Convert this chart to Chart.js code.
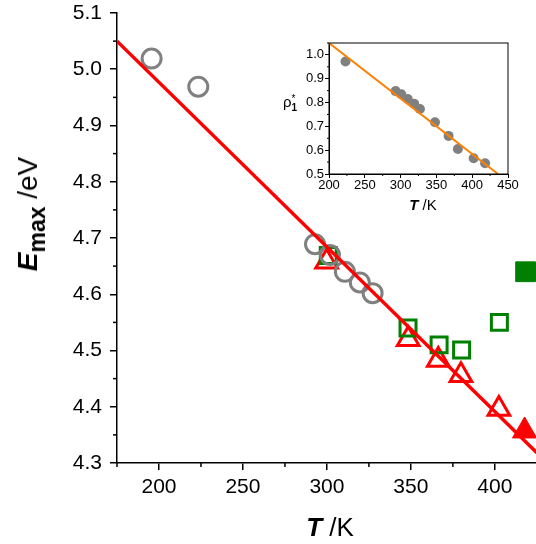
<!DOCTYPE html>
<html lang="en">
<head>
    <meta charset="UTF-8">
    <title>Emax vs T</title>
    <script src="https://cdn.jsdelivr.net/npm/chart.js"></script>
    <style>
        body {
            margin: 0;
            padding: 0;
            background: #fff;
            font-family: "Liberation Sans", Arial, sans-serif;
        }
        #wrap {
            position: relative;
            width: 536px;
            height: 544px;
            overflow: hidden;
        }
        #mainChart {
            position: absolute;
            left: 0;
            top: 0;
        }
        #insetChart {
            position: absolute;
            left: 295px;
            top: 38px;
        }
        .lbl {
            position: absolute;
            white-space: nowrap;
            color: #000;
            line-height: 1;
            transform: translate(-50%, -50%);
        }
        .rot {
            transform: translate(-50%, -50%) rotate(-90deg);
        }
        .bi { font-weight: bold; font-style: italic; }
        .sub { position: relative; top: 0.35em; font-weight: bold; }
    </style>
</head>
<body>
<div id="wrap">
    <canvas id="mainChart" width="536" height="544"></canvas>
    <canvas id="insetChart" width="225" height="156"></canvas>

    <div class="lbl rot" style="left:28px; top:214px; font-size:28px;">
        <span class="bi">E</span><span class="sub" style="font-size:23px;">max</span> /eV
    </div>
    <div class="lbl" style="left:330px; top:527px; font-size:26px;">
        <span class="bi">T</span> /K
    </div>
    <div class="lbl" style="left:423px; top:204px; font-size:15px;">
        <span class="bi">T</span> /K
    </div>
    <div class="lbl" style="left:290px; top:103px; font-size:15px;">
        ρ<span style="display:inline-block; vertical-align:middle; font-size:10px; line-height:0.9; text-align:left;">*<br><b>1</b></span>
    </div>
</div>

<script>
    // main plot: axis ticks
    const xTicks = [200, 250, 300, 350, 400];
    const xMinor = [175, 225, 275, 325, 375];
    const yTicks = [4.3, 4.4, 4.5, 4.6, 4.7, 4.8, 4.9, 5.0, 5.1];
    const yMinor = [4.35, 4.45, 4.55, 4.65, 4.75, 4.85, 4.95, 5.05];

    // gray open circles
    const circT = [195.6, 223.4, 292.9, 301.8, 310.7, 319.6, 327.2];
    const circE = [5.019, 4.969, 4.689, 4.670, 4.640, 4.621, 4.602];
    // green open squares
    const sqT = [300.8, 348.3, 366.8, 380.2, 402.7];
    const sqE = [4.669, 4.540, 4.510, 4.501, 4.550];
    // green filled square
    const sqFillT = [418.3];
    const sqFillE = [4.640];
    // red open triangles
    const triT = [299.8, 348.4, 366.3, 379.8, 402.4];
    const triE = [4.658, 4.520, 4.483, 4.456, 4.396];
    // red filled triangle
    const triFillT = [417.7];
    const triFillE = [4.357];
    // red linear fit
    const fitT = [175, 425];
    const fitE = [5.05, 4.318];

    // inset
    const insXTicks = [200, 250, 300, 350, 400, 450];
    const insXMinor = [225, 275, 325, 375, 425];
    const insYTicks = [0.5, 0.6, 0.7, 0.8, 0.9, 1.0];
    const insYMinor = [0.55, 0.65, 0.75, 0.85, 0.95, 1.05];
    const insT = [223, 293, 301, 310, 319, 327, 348, 367, 380, 402, 418];
    const insRho = [0.972, 0.848, 0.835, 0.815, 0.795, 0.773, 0.717, 0.660, 0.605, 0.566, 0.545];
    const insFitT = [200, 436];
    const insFitRho = [1.05, 0.5];

    const FONT = '"Liberation Sans", Arial, sans-serif';

    function pts(xs, ys) {
        return xs.map((x, i) => ({x: x, y: ys[i]}));
    }

    // draws the small in-between tick marks (and the inset frame)
    const extraTicks = {
        id: 'extraTicks',
        afterDraw(chart, args, opts) {
            const ctx = chart.ctx;
            const area = chart.chartArea;
            const xs = chart.scales.x;
            const ys = chart.scales.y;
            ctx.save();
            ctx.strokeStyle = '#000';
            ctx.lineWidth = opts.width;
            opts.x.forEach(v => {
                if (v < xs.min || v > xs.max) return;
                const px = xs.getPixelForValue(v);
                ctx.beginPath();
                ctx.moveTo(px, area.bottom);
                ctx.lineTo(px, area.bottom + opts.len);
                ctx.stroke();
            });
            opts.y.forEach(v => {
                if (v < ys.min || v > ys.max) return;
                const py = ys.getPixelForValue(v);
                ctx.beginPath();
                ctx.moveTo(area.left, py);
                ctx.lineTo(area.left - opts.len, py);
                ctx.stroke();
            });
            if (opts.box) {
                ctx.strokeRect(area.left, area.top, area.right - area.left, area.bottom - area.top);
            }
            ctx.restore();
        }
    };

    new Chart(document.getElementById('mainChart'), {
        type: 'scatter',
        data: {
            datasets: [
                {
                    data: pts(fitT, fitE),
                    showLine: true,
                    borderColor: '#ff0000',
                    borderWidth: 3.5,
                    pointRadius: 0
                },
                {
                    data: pts(circT, circE),
                    pointStyle: 'circle',
                    pointRadius: 9.5,
                    pointBorderWidth: 3,
                    pointBorderColor: '#808080',
                    pointBackgroundColor: 'rgba(0,0,0,0)'
                },
                {
                    data: pts(sqT, sqE),
                    pointStyle: 'rect',
                    pointRadius: 11.3,
                    pointBorderWidth: 3,
                    pointBorderColor: '#008000',
                    pointBackgroundColor: 'rgba(0,0,0,0)'
                },
                {
                    data: pts(sqFillT, sqFillE),
                    pointStyle: 'rect',
                    pointRadius: 14,
                    pointBorderWidth: 1,
                    pointBorderColor: '#008000',
                    pointBackgroundColor: '#008000'
                },
                {
                    data: pts(triT, triE),
                    pointStyle: 'triangle',
                    pointRadius: 12.5,
                    pointBorderWidth: 3,
                    pointBorderColor: '#ff0000',
                    pointBackgroundColor: 'rgba(0,0,0,0)'
                },
                {
                    data: pts(triFillT, triFillE),
                    pointStyle: 'triangle',
                    pointRadius: 14,
                    pointBorderWidth: 1,
                    pointBorderColor: '#ff0000',
                    pointBackgroundColor: '#ff0000'
                }
            ]
        },
        options: {
            responsive: false,
            animation: false,
            events: [],
            layout: { autoPadding: false, padding: { top: 13, right: 0, left: 0, bottom: 0 } },
            plugins: {
                legend: { display: false },
                tooltip: { enabled: false },
                extraTicks: { x: xMinor, y: yMinor, len: 4, width: 1.5 }
            },
            scales: {
                x: {
                    type: 'linear',
                    min: 175,
                    max: 424.5,
                    afterBuildTicks: s => { s.ticks = xTicks.map(v => ({value: v})); },
                    afterFit: s => { s.height = 81; s.paddingLeft = 0; s.paddingRight = 0; },
                    grid: { drawOnChartArea: false, drawTicks: true, tickLength: 7, color: '#000', lineWidth: 1.5 },
                    border: { display: true, color: '#000', width: 1.5 },
                    ticks: { color: '#000', padding: 5, font: { family: FONT, size: 21 }, maxRotation: 0 }
                },
                y: {
                    type: 'linear',
                    min: 4.3,
                    max: 5.1,
                    afterBuildTicks: s => { s.ticks = yTicks.map(v => ({value: v})); },
                    afterFit: s => { s.width = 117; s.paddingTop = 0; s.paddingBottom = 0; },
                    grid: { drawOnChartArea: false, drawTicks: true, tickLength: 7, color: '#000', lineWidth: 1.5 },
                    border: { display: true, color: '#000', width: 1.5 },
                    ticks: { color: '#000', padding: 8, font: { family: FONT, size: 21 }, callback: v => v.toFixed(1) }
                }
            }
        },
        plugins: [extraTicks]
    });

    new Chart(document.getElementById('insetChart'), {
        type: 'scatter',
        data: {
            datasets: [
                {
                    data: pts(insFitT, insFitRho),
                    showLine: true,
                    borderColor: '#ff8000',
                    borderWidth: 2,
                    pointRadius: 0
                },
                {
                    data: pts(insT, insRho),
                    pointStyle: 'circle',
                    pointRadius: 5,
                    pointBorderWidth: 0,
                    pointBackgroundColor: '#808080',
                    pointBorderColor: '#808080'
                }
            ]
        },
        options: {
            responsive: false,
            animation: false,
            events: [],
            layout: { autoPadding: false, padding: { top: 5, right: 12, left: 0, bottom: 0 } },
            plugins: {
                legend: { display: false },
                tooltip: { enabled: false },
                extraTicks: { x: insXMinor, y: insYMinor, len: 2, width: 1, box: true }
            },
            scales: {
                x: {
                    type: 'linear',
                    min: 200,
                    max: 450,
                    afterBuildTicks: s => { s.ticks = insXTicks.map(v => ({value: v})); },
                    afterFit: s => { s.height = 20; s.paddingLeft = 0; s.paddingRight = 0; },
                    grid: { drawOnChartArea: false, drawTicks: true, tickLength: 4, color: '#000', lineWidth: 1 },
                    border: { display: true, color: '#000', width: 1 },
                    ticks: { color: '#000', padding: 0, font: { family: FONT, size: 13 }, maxRotation: 0 }
                },
                y: {
                    type: 'linear',
                    min: 0.5,
                    max: 1.05,
                    afterBuildTicks: s => { s.ticks = insYTicks.map(v => ({value: v})); },
                    afterFit: s => { s.width = 34; s.paddingTop = 0; s.paddingBottom = 0; },
                    grid: { drawOnChartArea: false, drawTicks: true, tickLength: 4, color: '#000', lineWidth: 1 },
                    border: { display: true, color: '#000', width: 1 },
                    ticks: { color: '#000', padding: 1, font: { family: FONT, size: 13 }, callback: v => v.toFixed(1) }
                }
            }
        },
        plugins: [extraTicks]
    });
</script>
</body>
</html>
